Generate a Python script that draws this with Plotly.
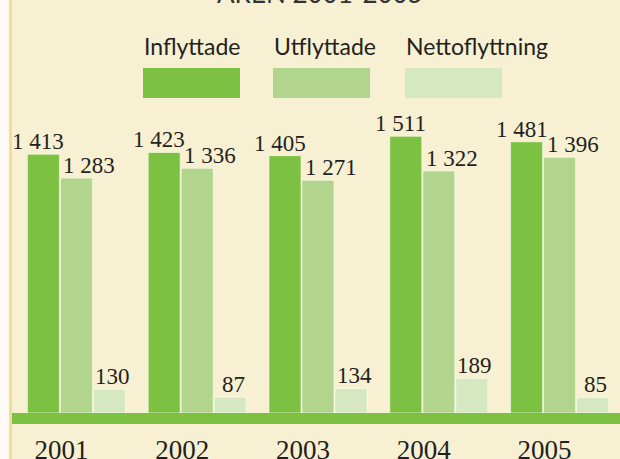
import plotly.graph_objects as go

# ---- data ----
years = ["2001", "2002", "2003", "2004", "2005"]
series_names = ["Inflyttade", "Utflyttade", "Nettoflyttning"]
inflyttade = [1413, 1423, 1405, 1511, 1481]
utflyttade = [1283, 1336, 1271, 1322, 1396]
netto = [130, 87, 134, 189, 85]
title_text = "ÅREN 2001-2005"

# ---- style ----
W, H = 620, 459
ML, MR, MT, MB = 16, 0, 109, 46
PW, PH = W - ML - MR, H - MT - MB
colors = ["#7cc142", "#b1d58c", "#d5e8c1"]
bg = "#f7f0d2"
text_col = "#231f20"

def px_x(p):
    return (p - ML) / PW

def px_y(p):
    return (H - MB - p) / PH

values = [inflyttade, utflyttade, netto]
bar_shift = [-33, 0, 33]
label_shift = [-5, 13, 3]

fig = go.Figure()
for name, vals, col in zip(series_names, values, colors):
    fig.add_trace(go.Bar(
        x=years, y=vals, name=name,
        marker=dict(color=col, line=dict(color="rgba(255,255,240,0.6)", width=1)),
        showlegend=False,
    ))

annotations = []
for i, vals in enumerate(values):
    for k, v in enumerate(vals):
        annotations.append(dict(
            x=k, y=v, xref="x", yref="y",
            text=f"{v:,}".replace(",", " "),
            showarrow=False, yanchor="bottom", xanchor="center",
            xshift=bar_shift[i] + label_shift[i], yshift=-2,
            font=dict(family="Liberation Serif", size=23, color=text_col),
        ))

# legend (custom: text above big swatches)
leg_x = [143, 273, 405]
shapes = []
for name, col, lx in zip(series_names, colors, leg_x):
    annotations.append(dict(
        x=px_x(lx - 1), y=px_y(46), xref="paper", yref="paper",
        text=name, showarrow=False, xanchor="left", yanchor="middle",
        font=dict(family="Lato", size=23, color=text_col),
    ))
    shapes.append(dict(
        type="rect", xref="paper", yref="paper",
        x0=px_x(lx), x1=px_x(lx + 97), y0=px_y(98), y1=px_y(68),
        fillcolor=col, line=dict(width=0),
    ))

# title (mostly cut off at the top)
annotations.append(dict(
    x=px_x(320), y=px_y(11), xref="paper", yref="paper",
    text=title_text, showarrow=False, xanchor="center", yanchor="bottom",
    font=dict(family="Lato", size=26, color="#333333"),
))

# baseline strip
shapes.append(dict(type="rect", xref="paper", yref="paper",
                   x0=px_x(12), x1=1, y0=px_y(424), y1=px_y(413),
                   fillcolor="#7cc142", line=dict(width=0), layer="above"))
# left white margin and yellow rule
shapes.append(dict(type="rect", xref="paper", yref="paper",
                   x0=px_x(0), x1=px_x(9), y0=px_y(H), y1=px_y(0),
                   fillcolor="#fdfbf3", line=dict(width=0)))
shapes.append(dict(type="rect", xref="paper", yref="paper",
                   x0=px_x(9), x1=px_x(12), y0=px_y(H), y1=px_y(0),
                   fillcolor="#f2e08e", line=dict(width=0)))

fig.update_layout(
    width=W, height=H,
    margin=dict(l=ML, r=MR, t=MT, b=MB, pad=0, autoexpand=False),
    paper_bgcolor=bg, plot_bgcolor=bg,
    barmode="group", bargap=0.18, bargroupgap=0.03,
    annotations=annotations, shapes=shapes,
    xaxis=dict(
        type="category", range=[-0.5, 4.5], automargin=False,
        showgrid=False, zeroline=False, showline=False,
        ticks="", ticklabelshift=-15, ticklabelstandoff=18,
        tickfont=dict(family="Liberation Serif", size=27, color=text_col),
    ),
    yaxis=dict(range=[0, 1660], visible=False, showgrid=False, zeroline=False),
)

fig.write_html(
    "out.html",
    config={"displayModeBar": False},
    post_script="document.body.style.margin='0';document.body.style.overflow='hidden';",
)
